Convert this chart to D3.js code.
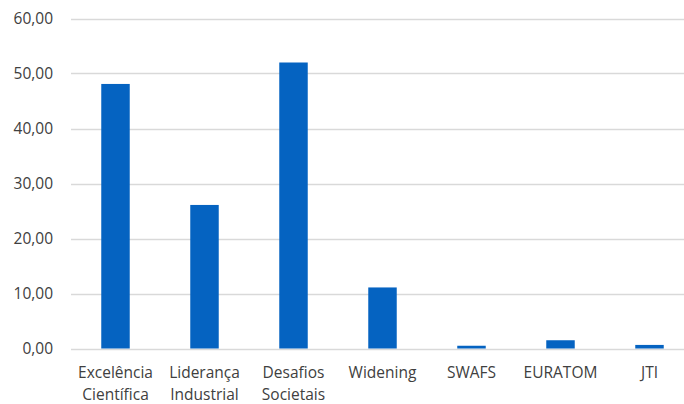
<!DOCTYPE html>
<html>
<head>
<meta charset="utf-8">
<script src="https://cdn.jsdelivr.net/npm/d3@7"></script>
<style>
  body { margin: 0; background: #fff; }
  svg { display: block; }
  text { font-family: "Open Sans", sans-serif; fill: #404040; }
</style>
</head>
<body>
<svg width="684" height="404"></svg>
<script>
// categories (two-line labels) and values
var categories = ["Excelência Científica", "Liderança Industrial", "Desafios Societais", "Widening", "SWAFS", "EURATOM", "JTI"];
var labelLines = [["Excelência", "Científica"], ["Liderança", "Industrial"], ["Desafios", "Societais"], ["Widening"], ["SWAFS"], ["EURATOM"], ["JTI"]];
var values = [48.1, 26.1, 52.0, 11.1, 0.5, 1.5, 0.65];
var ticks = [0, 10, 20, 30, 40, 50, 60];

var svg = d3.select("svg");
var plotLeft = 71, plotRight = 694, plotTop = 18.5, plotBottom = 348.5;

var x = d3.scaleBand()
  .domain(categories)
  .range([plotLeft, plotRight])
  .paddingInner(0.68)
  .paddingOuter(0.34);

var y = d3.scaleLinear()
  .domain([0, 60])
  .range([plotBottom, plotTop]);

// gridlines
svg.append("g")
  .selectAll("line")
  .data(ticks)
  .enter()
  .append("line")
  .attr("x1", plotLeft)
  .attr("x2", plotRight)
  .attr("y1", function(d) { return Math.round(y(d)) + 0.5; })
  .attr("y2", function(d) { return Math.round(y(d)) + 0.5; })
  .attr("stroke", "#d9d9d9")
  .attr("stroke-width", 1.3);

// y tick labels
var fmt = function(d) { return d3.format(".2f")(d).replace(".", ","); };
svg.append("g")
  .selectAll("text")
  .data(ticks)
  .enter()
  .append("text")
  .attr("x", 53)
  .attr("y", function(d) { return y(d); })
  .attr("dy", "0.35em")
  .attr("text-anchor", "end")
  .style("font-size", "15.5px")
  .text(fmt);

// bars
svg.append("g")
  .selectAll("rect")
  .data(values)
  .enter()
  .append("rect")
  .attr("x", function(d, i) { return x(categories[i]); })
  .attr("width", x.bandwidth())
  .attr("y", function(d) { return y(d); })
  .attr("height", function(d) { return y(0) - y(d); })
  .attr("fill", "#0563c1");

// category labels
var labels = svg.append("g")
  .selectAll("text")
  .data(categories)
  .enter()
  .append("text")
  .attr("text-anchor", "middle")
  .attr("x", function(d) { return x(d) + x.bandwidth() / 2; })
  .attr("y", 378)
  .style("font-size", "15.5px");

labels.selectAll("tspan")
  .data(function(d, i) { return labelLines[i]; })
  .enter()
  .append("tspan")
  .attr("x", function() { return this.parentNode.getAttribute("x"); })
  .attr("dy", function(d, i) { return i === 0 ? 0 : 22; })
  .text(function(d) { return d; });
</script>
</body>
</html>
